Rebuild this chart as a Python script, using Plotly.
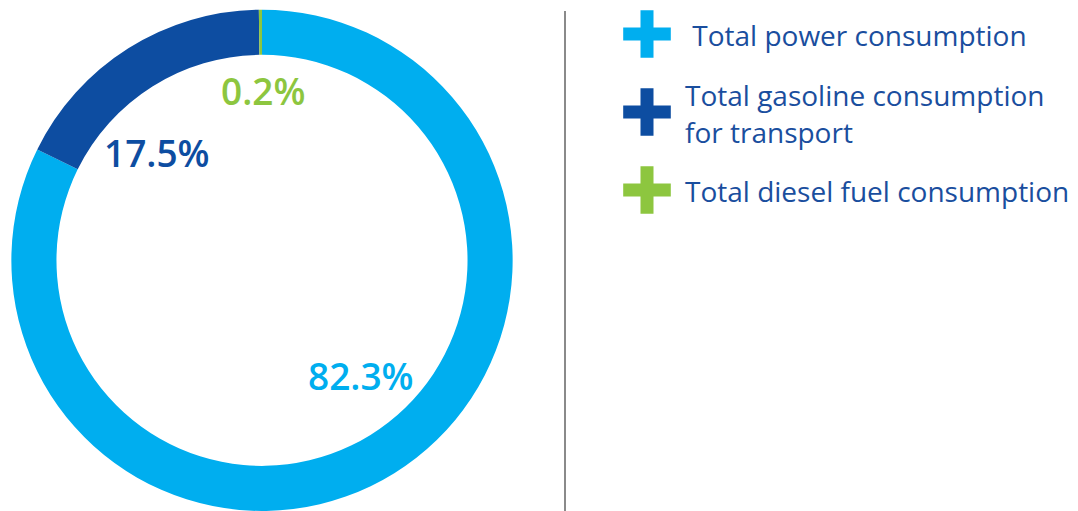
import plotly.graph_objects as go

# consumption shares (%)
categories = ["Total power consumption", "Total gasoline consumption<br>for transport", "Total diesel fuel consumption"]
shares = [82.3, 17.5, 0.2]
share_labels = ["82.3%", "17.5%", "0.2%"]
colors = ["#00AEEF", "#0D4DA1", "#8DC63F"]
legend_rows = [0, 1, 2]

text_blue = "#1A4E9E"

fig = go.Figure()

fig.add_trace(go.Pie(values=shares, labels=categories, hole=0.82, sort=False, direction='clockwise', rotation=0,
                     marker=dict(colors=colors, line=dict(width=0)), textinfo='none', hoverinfo='label+percent',
                     domain=dict(x=[11/1078, 513/1078], y=[0, 0.981]), showlegend=False))

# legend drawn as plus markers
fig.add_trace(go.Scatter(x=[0]*len(legend_rows), y=legend_rows, mode='markers',
                         marker=dict(symbol='cross-thin', size=34, line=dict(width=13, color=colors)),
                         showlegend=False, hoverinfo='skip'))

# legend text next to the markers
txt = ["\u00a0" + categories[0]] + categories[1:]
fig.add_trace(go.Scatter(x=[38]*len(legend_rows), y=[r + 0.07 for r in legend_rows], mode='text', text=txt,
                         textposition='middle right', textfont=dict(size=28, family='Open Sans', color=text_blue),
                         showlegend=False, hoverinfo='skip'))

# percent labels inside the ring
label_pos = [(361, 375), (157, 152), (263, 90)]
for (px_, py_), lab, col in zip(label_pos, share_labels, colors):
    fig.add_annotation(x=px_/1078, y=1 - py_/511, xref='paper', yref='paper', text=lab, showarrow=False,
                       font=dict(size=37, family='Open Sans', color=col, weight=600), xanchor='center', yanchor='middle')

fig.add_shape(type='line', xref='paper', yref='paper', x0=565/1078, x1=565/1078, y0=0, y1=1 - 11/511,
              line=dict(color='#8A8A8A', width=2))

fig.update_xaxes(domain=[600/1078, 1], range=[-47, 431], visible=False, fixedrange=True)
fig.update_yaxes(domain=[0, 1], range=[2 + 321/78, -34/78], visible=False, fixedrange=True)

fig.update_layout(width=1078, height=511, margin=dict(l=0, r=0, t=0, b=0), paper_bgcolor='white',
                  plot_bgcolor='white', font=dict(family='Open Sans'))

fig.write_html("out.html", config={'displayModeBar': False}, post_script="document.body.style.margin='0';")
